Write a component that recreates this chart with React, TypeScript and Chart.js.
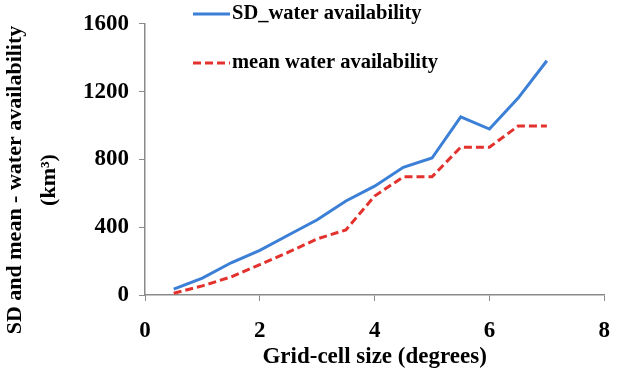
import React, { useEffect, useRef } from "react";
import { Chart, registerables } from "chart.js";

Chart.register(...registerables);

const gridSizes = [0.5, 1, 1.5, 2, 2.5, 3, 3.5, 4, 4.5, 5, 5.5, 6, 6.5, 7];
const sdValues = [35, 100, 190, 263, 354, 444, 555, 642, 753, 808, 1051, 979, 1162, 1382];
const meanValues = [10, 54, 107, 179, 253, 331, 384, 584, 697, 697, 872, 872, 997, 997];
const seriesLabels = ["SD_water availability", "mean water availability"];
const xTitle = "Grid-cell size (degrees)";
const yTitleLines = ["SD and mean - water availability", "(km\u00b3)"];
const xRange = [0, 8];
const yRange = [0, 1600];

const FONT = "'Liberation Serif', 'Times New Roman', serif";
const BLUE = "#3b7fd6";
const RED = "#e3312d";
const AXIS = "#8a8a8a";

const overlayPlugin = {
  id: "overlay",
  afterDraw(chart: any) {
    const { ctx, chartArea } = chart;
    ctx.save();
    ctx.fillStyle = "#000";
    ctx.font = `bold 20.5px ${FONT}`;
    // legend
    const items = [
      { label: seriesLabels[0], color: BLUE, dash: [] as number[], y: 14 },
      { label: seriesLabels[1], color: RED, dash: [8, 4], y: 63 },
    ];
    items.forEach((it) => {
      ctx.beginPath();
      ctx.strokeStyle = it.color;
      ctx.lineWidth = 3;
      ctx.setLineDash(it.dash);
      ctx.moveTo(chartArea.left + 48, it.y);
      ctx.lineTo(chartArea.left + 85, it.y);
      ctx.stroke();
      ctx.setLineDash([]);
      ctx.textAlign = "left";
      ctx.textBaseline = "middle";
      ctx.fillText(it.label, chartArea.left + 87, it.y);
    });
    // x title
    ctx.font = `bold 23px ${FONT}`;
    ctx.textAlign = "center";
    ctx.textBaseline = "middle";
    ctx.fillText(xTitle, (chartArea.left + chartArea.right) / 2, 357);
    // y title
    ctx.font = `bold 22px ${FONT}`;
    ctx.translate(0, 180);
    ctx.rotate(-Math.PI / 2);
    ctx.fillText(yTitleLines[0], 0, 15);
    ctx.fillText(yTitleLines[1], 0, 49);
    ctx.restore();
  },
};

export default function App() {
  const ref = useRef<HTMLCanvasElement | null>(null);
  useEffect(() => {
    if (!ref.current) return;
    const chart = new Chart(ref.current, {
      type: "line",
      data: {
        datasets: [
          {
            label: seriesLabels[0],
            data: gridSizes.map((x, i) => ({ x, y: sdValues[i] })),
            borderColor: BLUE,
            borderWidth: 3,
            pointRadius: 0,
            tension: 0,
            fill: false,
          },
          {
            label: seriesLabels[1],
            data: gridSizes.map((x, i) => ({ x, y: meanValues[i] })),
            borderColor: RED,
            borderWidth: 3,
            borderDash: [8, 4],
            pointRadius: 0,
            tension: 0,
            fill: false,
          },
        ],
      },
      options: {
        responsive: false,
        animation: false,
        layout: { padding: { top: 21, right: 17, left: 0, bottom: 0 } },
        plugins: {
          legend: { display: false },
          tooltip: { enabled: false },
        },
        scales: {
          x: {
            type: "linear",
            min: xRange[0],
            max: xRange[1],
            afterFit: (s: any) => {
              s.height = 87;
            },
            ticks: {
              stepSize: 2,
              color: "#000",
              padding: 16,
              font: { family: FONT, size: 23, weight: "bold" },
              callback: (v: any) => String(v),
            },
            grid: { drawOnChartArea: false, drawTicks: true, tickLength: 6, color: AXIS },
            border: { color: AXIS, width: 1.5 },
          },
          y: {
            type: "linear",
            min: yRange[0],
            max: yRange[1],
            afterFit: (s: any) => {
              s.width = 145;
            },
            ticks: {
              stepSize: 400,
              color: "#000",
              padding: 10,
              font: { family: FONT, size: 23, weight: "bold" },
              callback: (v: any) => String(v),
            },
            grid: { drawOnChartArea: false, drawTicks: true, tickLength: 6, color: AXIS },
            border: { color: AXIS, width: 1.5 },
          },
        },
      },
      plugins: [overlayPlugin],
    } as any);
    return () => chart.destroy();
  }, []);
  return (
    <div style={{ position: "fixed", left: 0, top: 0, width: 626, height: 382, background: "#fff" }}>
      <canvas ref={ref} width={626} height={382} style={{ display: "block" }} />
    </div>
  );
}
